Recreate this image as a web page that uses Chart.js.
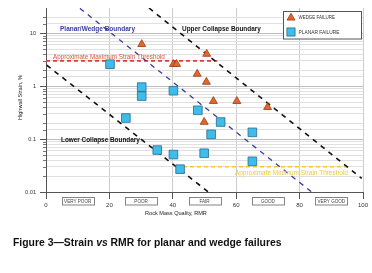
<!DOCTYPE html>
<html>
<head>
<meta charset="utf-8">
<script src="https://cdn.jsdelivr.net/npm/chart.js@4.4.1/dist/chart.umd.min.js"></script>
<style>
  html, body { margin: 0; padding: 0; background: #fff; }
  #wrap { position: relative; width: 372px; height: 273px; overflow: hidden; }
  #chart { position: absolute; left: 0; top: 0; }
  #caption {
    position: absolute; left: 13px; top: 237px; line-height: 12px;
    font: bold 10.4px "Liberation Sans", Arial, sans-serif; color: #111; white-space: nowrap;
  }
</style>
</head>
<body>
<div id="wrap">
  <canvas id="chart" width="372" height="273"></canvas>
  <div id="caption">Figure 3—Strain <i>vs</i> RMR for planar and wedge failures</div>
</div>
<script>
// failure points
const wedgeRMR = [30.2, 40.2, 41.2, 50.7, 47.7, 50.6, 52.8, 60.2, 69.9, 49.9];
const wedgeStrain = [6.2, 2.6, 2.6, 4.05, 1.7, 1.2, 0.52, 0.52, 0.40, 0.21];
const planarRMR = [20.2, 30.2, 30.2, 40.2, 25.2, 35.1, 40.2, 42.3, 47.9, 55.1, 52.1, 65.1, 49.9, 65.1];
const planarStrain = [2.6, 0.96, 0.65, 0.82, 0.25, 0.062, 0.051, 0.027, 0.35, 0.21, 0.123, 0.134, 0.054, 0.038];

// boundary lines and thresholds (RMR, strain %)
const upperCollapseRMR = [32.5, 99.6];
const upperCollapseStrain = [30, 0.018];
const planarWedgeRMR = [10.7, 83.8];
const planarWedgeStrain = [29.5, 0.01];
const lowerCollapseRMR = [0.2, 51.2];
const lowerCollapseStrain = [2.5, 0.01];
const maxThresholdRMR = [0, 54];
const maxThresholdStrain = [3, 3];
const minThresholdRMR = [41, 95.4];
const minThresholdStrain = [0.03, 0.03];

// axes
const xTicks = [0, 20, 40, 60, 80, 100];
const yDecades = [0.01, 0.1, 1, 10];
const rockClasses = ["VERY POOR", "POOR", "FAIR", "GOOD", "VERY GOOD"];
const rockClassCentres = [10, 30, 50, 70, 90];

const FONT = '"Liberation Sans", Arial, sans-serif';
const WEDGE_FILL = "#e2662e", WEDGE_EDGE = "#9a3c14";
const PLANAR_FILL = "#3fbde9", PLANAR_EDGE = "#2a6a92";

function pts(xs, ys) {
  return xs.map((x, i) => ({ x: x, y: ys[i] }));
}

function isDecade(v) {
  const l = Math.log10(v);
  return Math.abs(l - Math.round(l)) < 1e-6;
}

function lineSet(xs, ys, color, width, dash) {
  return {
    data: pts(xs, ys), showLine: true, pointRadius: 0,
    borderColor: color, borderWidth: width, borderDash: dash, fill: false
  };
}

// draw text squeezed or stretched to a given width
function fitText(ctx, text, x, y, w, weight, color) {
  ctx.font = weight + " 10px " + FONT;
  const m = ctx.measureText(text).width;
  ctx.font = weight + " " + (10 * w / m).toFixed(2) + "px " + FONT;
  ctx.fillStyle = color;
  ctx.textAlign = "left";
  ctx.textBaseline = "middle";
  ctx.fillText(text, x, y);
}

const extras = {
  id: "extras",
  afterDraw(chart) {
    const ctx = chart.ctx;
    const xs = chart.scales.x, ys = chart.scales.y;
    const area = chart.chartArea;
    ctx.save();

    // minor ticks on the strain axis
    ctx.strokeStyle = "#777";
    ctx.lineWidth = 1;
    ys.ticks.forEach(t => {
      if (isDecade(t.value) || t.value >= 30) return;
      const py = Math.round(ys.getPixelForValue(t.value)) + 0.5;
      ctx.beginPath();
      ctx.moveTo(area.left - 3, py);
      ctx.lineTo(area.left, py);
      ctx.stroke();
    });

    // line labels
    fitText(ctx, "Planar/Wedge Boundary", 60, 29, 75, "bold", "#3b3b9e");
    fitText(ctx, "Upper Collapse Boundary", 182, 29, 79, "bold", "#111");
    fitText(ctx, "Lower Collapse Boundary", 61, 140.5, 79, "bold", "#111");
    fitText(ctx, "Approximate Maximum Strain Threshold", 53, 57, 112, "normal", "#d9503f");
    fitText(ctx, "Approximate Minimum Strain Threshold", 235, 173.5, 113, "normal", "#ebc93a");

    // legend box
    ctx.fillStyle = "#fff";
    ctx.fillRect(283.5, 11.5, 78, 27.5);
    ctx.strokeStyle = "#555";
    ctx.lineWidth = 1;
    ctx.strokeRect(283.5, 11.5, 78, 27.5);
    const w = chart.data.datasets[0], p = chart.data.datasets[1];
    ctx.fillStyle = w.backgroundColor; ctx.strokeStyle = w.borderColor; ctx.lineWidth = 0.8;
    Chart.helpers.drawPoint(ctx, { pointStyle: "triangle", radius: 4.6, rotation: 0, borderWidth: 0.8 }, 291, 17.8);
    ctx.fillStyle = p.backgroundColor; ctx.strokeStyle = p.borderColor;
    Chart.helpers.drawPoint(ctx, { pointStyle: "rect", radius: 5.8, rotation: 0, borderWidth: 0.8 }, 291, 32);
    fitText(ctx, "WEDGE FAILURE", 298.5, 17.3, 36.5, "normal", "#333");
    fitText(ctx, "PLANAR FAILURE", 298.5, 32.3, 41, "normal", "#333");

    // rock mass classes under the axis
    ctx.font = "4.6px " + FONT;
    ctx.textAlign = "center";
    ctx.textBaseline = "middle";
    rockClasses.forEach((name, i) => {
      const l = xs.getPixelForValue(rockClassCentres[i] - 5);
      const r = xs.getPixelForValue(rockClassCentres[i] + 5);
      ctx.fillStyle = "#fff";
      ctx.fillRect(l, 197, r - l, 8);
      ctx.strokeStyle = "#777";
      ctx.lineWidth = 0.9;
      ctx.strokeRect(Math.round(l) + 0.5, 197.5, Math.round(r - l), 7.5);
      ctx.fillStyle = "#444";
      ctx.fillText(name, (l + r) / 2, 201.5);
    });

    // axis titles
    fitText(ctx, "Rock Mass Quality, RMR", 145, 213.5, 62, "normal", "#222");
    ctx.translate(20, 97.5);
    ctx.rotate(-Math.PI / 2);
    fitText(ctx, "Highwall Strain, %", -22.5, 0, 45, "normal", "#222");
    ctx.restore();
  }
};

new Chart(document.getElementById("chart"), {
  type: "scatter",
  data: {
    datasets: [
      {
        label: "WEDGE FAILURE", data: pts(wedgeRMR, wedgeStrain),
        pointStyle: "triangle", pointRadius: 4.6, borderWidth: 0.8,
        backgroundColor: WEDGE_FILL, borderColor: WEDGE_EDGE
      },
      {
        label: "PLANAR FAILURE", data: pts(planarRMR, planarStrain),
        pointStyle: "rect", pointRadius: 6.1, borderWidth: 0.8,
        backgroundColor: PLANAR_FILL, borderColor: PLANAR_EDGE
      },
      lineSet(upperCollapseRMR, upperCollapseStrain, "#111", 1.6, [5, 5]),
      lineSet(planarWedgeRMR, planarWedgeStrain, "#3b3b9e", 1.3, [5, 5]),
      lineSet(lowerCollapseRMR, lowerCollapseStrain, "#111", 1.6, [5, 5]),
      lineSet(maxThresholdRMR, maxThresholdStrain, "#d9403a", 1.8, [4, 3]),
      lineSet(minThresholdRMR, minThresholdStrain, "#f0c830", 1.6, [4, 3])
    ]
  },
  options: {
    responsive: false,
    animation: false,
    events: [],
    layout: { padding: { left: 0, top: 8, right: 9, bottom: 0 } },
    plugins: { legend: { display: false }, tooltip: { enabled: false } },
    scales: {
      x: {
        type: "linear", min: 0, max: 100,
        afterFit: s => { s.height = 81; },
        afterBuildTicks: s => { s.ticks = xTicks.map(v => ({ value: v })); },
        ticks: { font: { size: 6, family: FONT }, color: "#333", padding: 3 },
        grid: { color: "#cdcdcd", tickColor: "#555", tickLength: 7, lineWidth: 1 },
        border: { color: "#555", width: 1 }
      },
      y: {
        type: "logarithmic", min: 0.01, max: 30,
        afterFit: s => { s.width = 46; },
        ticks: {
          font: { size: 5.6, family: FONT }, color: "#333", padding: 4,
          autoSkip: false,
          callback: v => (isDecade(v) && yDecades.includes(+v.toPrecision(3))) ? String(+v.toPrecision(3)) : ""
        },
        grid: {
          color: c => c.tick && c.tick.value >= 30 ? "rgba(0,0,0,0)" : (isDecade(c.tick.value) ? "#bdbdbd" : "#e0e0e0"),
          tickColor: c => c.tick && isDecade(c.tick.value) ? "#555" : "rgba(0,0,0,0)",
          tickLength: 6
        },
        border: { color: "#555", width: 1 }
      }
    }
  },
  plugins: [extras]
});
</script>
</body>
</html>
